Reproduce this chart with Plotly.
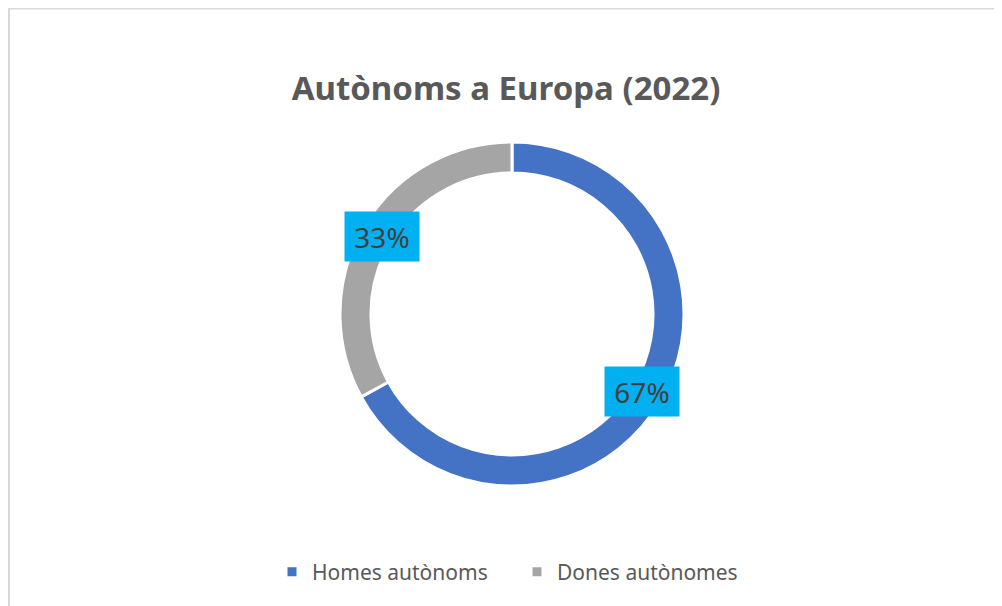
import numpy as np
import plotly.graph_objects as go

# Autònoms a Europa (2022)
categories = ["Homes autònoms", "Dones autònomes"]
values = [67, 33]
colors = ["#4472C4", "#A5A5A5"]

# the page body adds an 8px margin, so target pixel positions are shifted by OFF
OFF = 8
W, H = 1002, 606
cx, cy, r = 512 - OFF, 314 - OFF, 172  # pixel centre / radius of the ring

fig = go.Figure()
fig.add_trace(go.Pie(
    labels=categories, values=values, hole=0.82, sort=False,
    direction="clockwise", rotation=0,
    marker=dict(colors=colors, line=dict(color="white", width=3)),
    textinfo="none", hoverinfo="label+percent",
    domain=dict(x=[(cx - r) / W, (cx + r) / W], y=[(H - cy - r) / H, (H - cy + r) / H]),
))

# labels in boxes at the middle of each slice
total = sum(values)
start = 0.0
mid_r = r * 0.88
for v in values:
    ang = (start + v / 2) / total * 2 * np.pi
    start += v
    px_ = cx + mid_r * np.sin(ang)
    py_ = cy - mid_r * np.cos(ang)
    fig.add_annotation(
        x=px_ / W, y=1 - py_ / H, xref="paper", yref="paper",
        text=f"{round(v / total * 100)}%", showarrow=False,
        font=dict(family="Noto Sans", size=28, color="#404040"),
        bgcolor="#00B0F0", borderpad=5, width=64, height=39,
    )

# chart border (cropped at right/bottom)
fig.add_shape(type="rect", xref="paper", yref="paper",
              x0=0.001, y0=-0.05, x1=1.05, y1=0.999,
              line=dict(color="#D9D9D9", width=2), fillcolor="rgba(0,0,0,0)")

fig.update_layout(
    width=W, height=H,
    margin=dict(l=0, r=0, t=0, b=0),
    paper_bgcolor="white", plot_bgcolor="white",
    title=dict(text="<b>Autònoms a Europa (2022)</b>", x=(506 - OFF) / W, xanchor="center",
               y=1 - (88 - OFF) / H, yanchor="middle",
               font=dict(family="Noto Sans", size=33, color="#595959")),
    showlegend=True,
    legend=dict(orientation="h", x=(517 - OFF) / W, xanchor="center",
                y=1 - (572 - OFF) / H, yanchor="middle",
                font=dict(family="Noto Sans", size=21, color="#595959"),
                itemwidth=30, entrywidth=200, traceorder="normal"),
)

fig.write_html("out.html")
